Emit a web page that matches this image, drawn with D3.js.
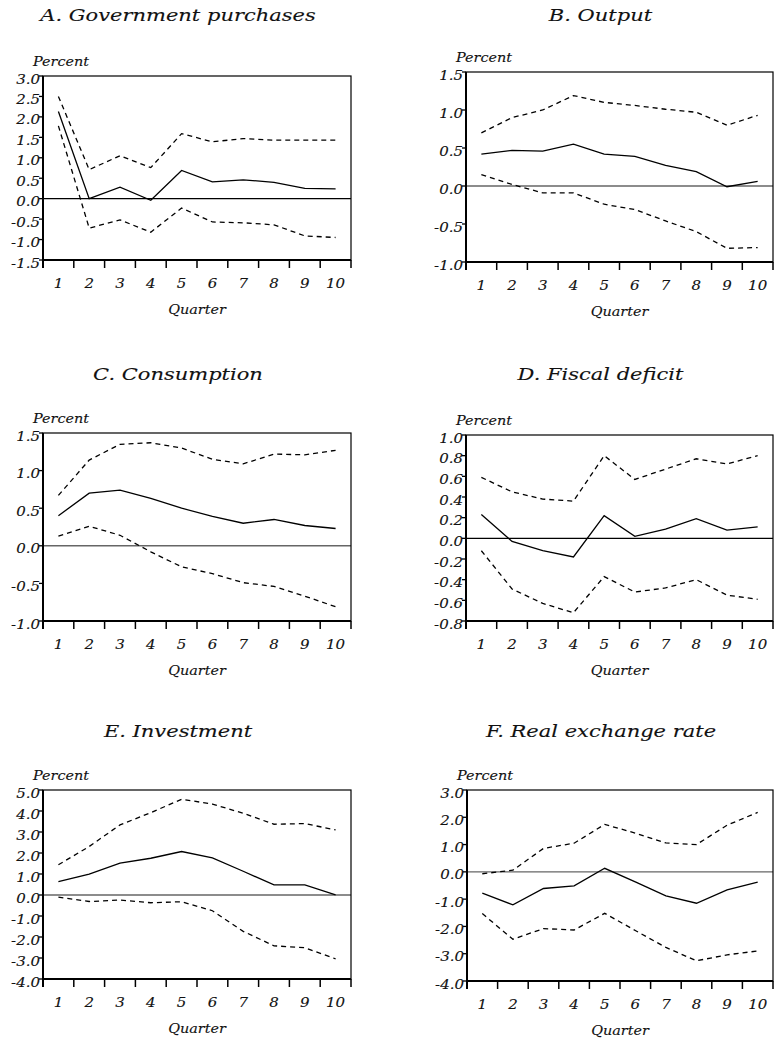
<!DOCTYPE html>
<html>
<head>
<meta charset="utf-8">
<script src="https://cdn.jsdelivr.net/npm/d3@7"></script>
<style>
  body { margin: 0; background: #fff; }
  text { font-family: "DejaVu Serif", serif; font-style: italic; fill: #111; stroke: #111; stroke-width: 0.12px; }
</style>
</head>
<body>
<div id="chart"></div>
<script>
// quarters on the x axis
var quarters = [1, 2, 3, 4, 5, 6, 7, 8, 9, 10];

// A. Government purchases
var govMid   = [2.13, 0.00, 0.28, -0.04, 0.69, 0.41, 0.46, 0.40, 0.25, 0.24];
var govUpper = [2.50, 0.71, 1.05, 0.76, 1.59, 1.39, 1.47, 1.43, 1.43, 1.43];
var govLower = [1.78, -0.72, -0.52, -0.82, -0.23, -0.57, -0.59, -0.64, -0.91, -0.95];
var govTicks = [-1.5, -1.0, -0.5, 0.0, 0.5, 1.0, 1.5, 2.0, 2.5, 3.0];

// B. Output
var outMid   = [0.42, 0.47, 0.46, 0.55, 0.42, 0.39, 0.27, 0.19, -0.01, 0.06];
var outUpper = [0.70, 0.90, 1.00, 1.19, 1.10, 1.06, 1.01, 0.97, 0.80, 0.93];
var outLower = [0.15, 0.02, -0.09, -0.09, -0.24, -0.31, -0.46, -0.60, -0.82, -0.81];
var outTicks = [-1.0, -0.5, 0.0, 0.5, 1.0, 1.5];

// C. Consumption
var conMid   = [0.40, 0.70, 0.74, 0.63, 0.50, 0.39, 0.30, 0.35, 0.27, 0.23];
var conUpper = [0.67, 1.14, 1.35, 1.37, 1.30, 1.15, 1.09, 1.22, 1.21, 1.27];
var conLower = [0.13, 0.26, 0.14, -0.08, -0.28, -0.37, -0.49, -0.54, -0.67, -0.81];
var conTicks = [-1.0, -0.5, 0.0, 0.5, 1.0, 1.5];

// D. Fiscal deficit
var defMid   = [0.23, -0.03, -0.12, -0.18, 0.22, 0.02, 0.09, 0.19, 0.08, 0.11];
var defUpper = [0.59, 0.45, 0.38, 0.36, 0.80, 0.57, 0.67, 0.77, 0.72, 0.80];
var defLower = [-0.12, -0.49, -0.63, -0.72, -0.37, -0.52, -0.48, -0.40, -0.55, -0.59];
var defTicks = [-0.8, -0.6, -0.4, -0.2, 0.0, 0.2, 0.4, 0.6, 0.8, 1.0];

// E. Investment
var invMid   = [0.64, 0.99, 1.52, 1.75, 2.07, 1.77, 1.13, 0.48, 0.48, 0.01];
var invUpper = [1.44, 2.31, 3.34, 3.92, 4.56, 4.33, 3.89, 3.37, 3.40, 3.10];
var invLower = [-0.10, -0.31, -0.24, -0.37, -0.32, -0.75, -1.73, -2.42, -2.51, -3.04];
var invTicks = [-4, -3, -2, -1, 0, 1, 2, 3, 4, 5];

// F. Real exchange rate
var rerMid   = [-0.78, -1.21, -0.61, -0.51, 0.13, -0.37, -0.88, -1.15, -0.66, -0.38];
var rerUpper = [-0.07, 0.06, 0.86, 1.05, 1.74, 1.42, 1.06, 1.00, 1.71, 2.18];
var rerLower = [-1.53, -2.47, -2.08, -2.13, -1.52, -2.15, -2.77, -3.26, -3.04, -2.90];
var rerTicks = [-4, -3, -2, -1, 0, 1, 2, 3];

// box = [left, top, right, bottom], titleY = title baseline
var panels = [
  {title: "A. Government purchases", mid: govMid, up: govUpper, lo: govLower, ticks: govTicks,
   box: [43, 76, 351, 260], titleY: 21, zero: "#000"},
  {title: "B. Output", mid: outMid, up: outUpper, lo: outLower, ticks: outTicks,
   box: [466, 72, 773, 262], titleY: 21, zero: "#666"},
  {title: "C. Consumption", mid: conMid, up: conUpper, lo: conLower, ticks: conTicks,
   box: [43, 433, 351, 621], titleY: 380, zero: "#666"},
  {title: "D. Fiscal deficit", mid: defMid, up: defUpper, lo: defLower, ticks: defTicks,
   box: [466, 435, 773, 621], titleY: 380, zero: "#000"},
  {title: "E. Investment", mid: invMid, up: invUpper, lo: invLower, ticks: invTicks,
   box: [43, 790, 351, 979], titleY: 737, zero: "#666"},
  {title: "F. Real exchange rate", mid: rerMid, up: rerUpper, lo: rerLower, ticks: rerTicks,
   box: [467, 790, 773, 981], titleY: 737, zero: "#666"}
];

var SX = 1.2; // the printed type is wide, stretch it a bit

var svg = d3.select("#chart").append("svg")
  .attr("width", 777)
  .attr("height", 1041);

// text stretched horizontally around its anchor point
function label(g, x, y, s, size, anchor) {
  return g.append("text")
    .attr("transform", "translate(" + x + "," + y + ") scale(" + SX + ",1)")
    .attr("text-anchor", anchor)
    .style("font-size", size + "px")
    .text(s);
}

panels.forEach(function(p) {
  var left = p.box[0], top = p.box[1], right = p.box[2], bottom = p.box[3];
  var g = svg.append("g");

  var x = d3.scaleBand()
    .domain(quarters)
    .range([left, right]);
  var y = d3.scaleLinear()
    .domain(d3.extent(p.ticks))
    .range([bottom, top]);

  // title, y caption, x caption
  label(g, (left + right) / 2 - 19, p.titleY, p.title, 17.5, "middle");
  label(g, left - 10, top - 10, "Percent", 12, "start");
  label(g, (left + right) / 2, bottom + 54, "Quarter", 12, "middle");

  // zero line
  g.append("line")
    .attr("x1", left).attr("x2", right)
    .attr("y1", y(0)).attr("y2", y(0))
    .attr("stroke", p.zero)
    .attr("stroke-width", 1.4);

  // y ticks
  p.ticks.forEach(function(t) {
    g.append("line")
      .attr("x1", left - 4).attr("x2", left)
      .attr("y1", y(t)).attr("y2", y(t))
      .attr("stroke", "#000").attr("stroke-width", 1.3);
    label(g, left - 3, y(t) + 7.5, (Math.round(t * 10) / 10).toFixed(1), 12.5, "end");
  });

  // x ticks at band edges, labels in the middle of each band
  var edges = quarters.map(function(q) { return x(q); }).concat([right]);
  edges.forEach(function(e) {
    g.append("line")
      .attr("x1", e).attr("x2", e)
      .attr("y1", bottom).attr("y2", bottom + 8)
      .attr("stroke", "#000").attr("stroke-width", 1.5);
  });
  quarters.forEach(function(q) {
    label(g, x(q) + x.bandwidth() / 2, bottom + 28, String(q), 12.5, "middle");
  });

  var line = d3.line()
    .x(function(d, i) { return x(quarters[i]) + x.bandwidth() / 2; })
    .y(function(d) { return y(d); });

  g.append("path").datum(p.up)
    .attr("fill", "none").attr("stroke", "#000").attr("stroke-width", 1.3)
    .attr("stroke-dasharray", "5,4").attr("d", line);
  g.append("path").datum(p.lo)
    .attr("fill", "none").attr("stroke", "#000").attr("stroke-width", 1.3)
    .attr("stroke-dasharray", "5,4").attr("d", line);
  g.append("path").datum(p.mid)
    .attr("fill", "none").attr("stroke", "#000").attr("stroke-width", 1.3)
    .attr("d", line);

  // frame
  g.append("rect")
    .attr("x", left).attr("y", top)
    .attr("width", right - left).attr("height", bottom - top)
    .attr("fill", "none").attr("stroke", "#000").attr("stroke-width", 1.2);
  g.append("line")
    .attr("x1", left).attr("x2", left).attr("y1", top).attr("y2", bottom + 8)
    .attr("stroke", "#000").attr("stroke-width", 2);
  g.append("line")
    .attr("x1", left).attr("x2", right).attr("y1", bottom).attr("y2", bottom)
    .attr("stroke", "#000").attr("stroke-width", 2);
});
</script>
</body>
</html>
